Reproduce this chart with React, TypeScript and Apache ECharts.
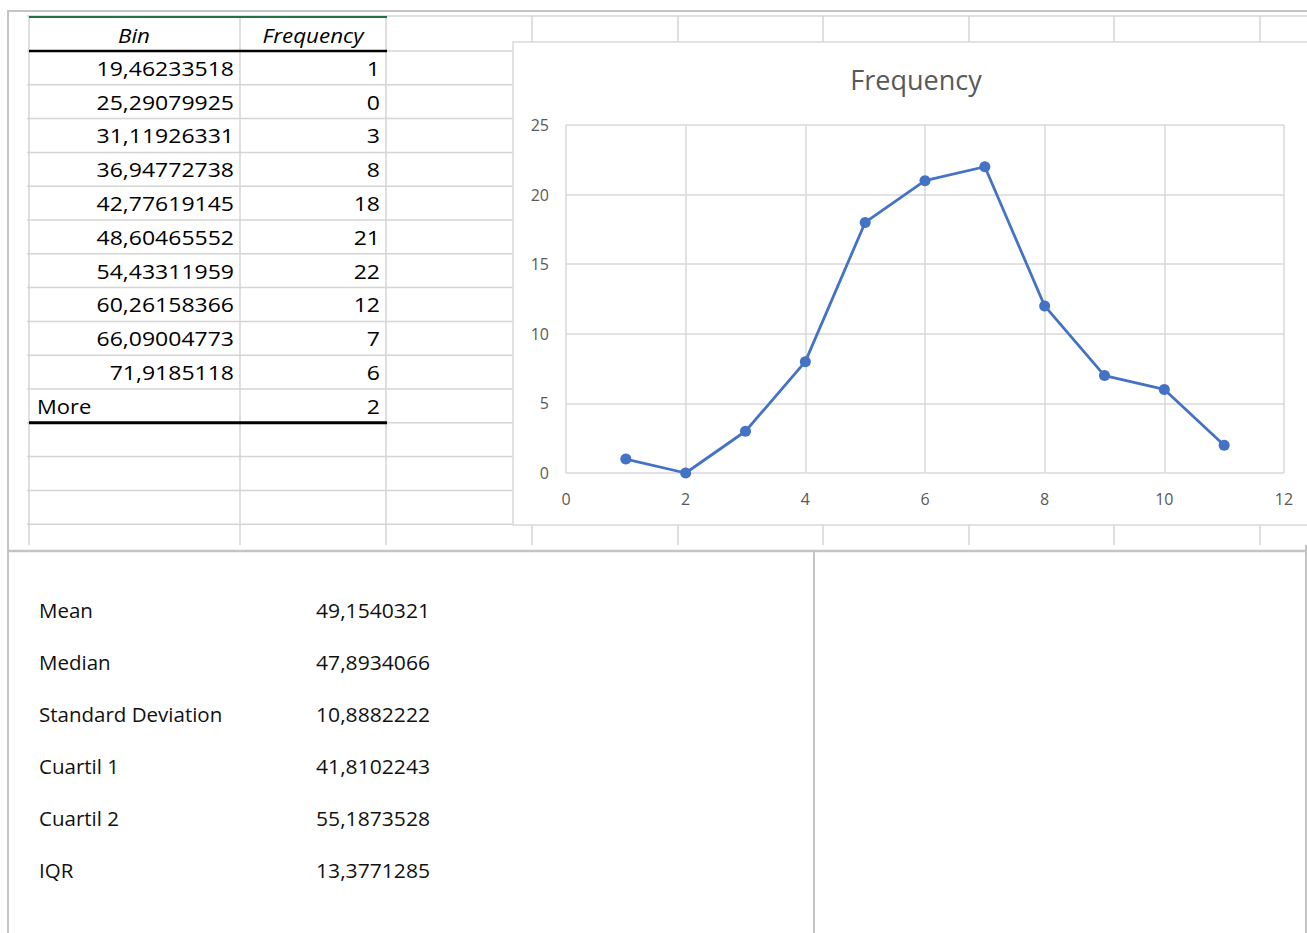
import React, { useEffect, useRef } from "react";
import * as echarts from "echarts";

// Frequency table (bin upper limits shown with comma decimals)
const binLabels = [
  "19,46233518",
  "25,29079925",
  "31,11926331",
  "36,94772738",
  "42,77619145",
  "48,60465552",
  "54,43311959",
  "60,26158366",
  "66,09004773",
  "71,9185118",
  "More",
];
const frequencies = [1, 0, 3, 8, 18, 21, 22, 12, 7, 6, 2];

// Summary statistics
const statLabels = ["Mean", "Median", "Standard Deviation", "Cuartil 1", "Cuartil 2", "IQR"];
const statValues = [
  "49,1540321",
  "47,8934066",
  "10,8882222",
  "41,8102243",
  "55,1873528",
  "13,3771285",
];

const FONT = "'Open Sans', 'Noto Sans', sans-serif";
const GRID_GRAY = "#d4d4d4";
const DOC_GRAY = "#c4c4c4";

const ROW_TOP = 51;
const ROW_H = 33.8;
const SHEET_COLS = [532, 678, 823, 969, 1114, 1260];

function line(x1: number, y1: number, x2: number, y2: number, stroke: string, lineWidth: number) {
  return { type: "line", silent: true, shape: { x1, y1, x2, y2 }, style: { stroke, lineWidth } };
}

function text(
  x: number,
  y: number,
  str: string,
  opts: { align?: string; size?: number; italic?: boolean; color?: string; scaleX?: number } = {}
) {
  return {
    type: "text",
    silent: true,
    x,
    y,
    scaleX: opts.scaleX ?? 1,
    style: {
      text: str,
      align: opts.align ?? "left",
      verticalAlign: "middle",
      fill: opts.color ?? "#000000",
      font: `${opts.italic ? "italic " : ""}${opts.size ?? 20}px ${FONT}`,
    },
  };
}

function buildGraphics() {
  const els: any[] = [];

  // spreadsheet gridlines around the chart box
  els.push(line(27, 16, 1307, 16, GRID_GRAY, 1.5));
  for (let i = 0; i <= 14; i++) {
    const y = ROW_TOP + ROW_H * i;
    els.push(line(27, y, 513, y, GRID_GRAY, 1.5));
  }
  [29, 240, 386].forEach((x) => els.push(line(x, 16, x, 545, GRID_GRAY, 1.5)));
  SHEET_COLS.forEach((x) => {
    els.push(line(x, 16, x, 42, GRID_GRAY, 1.5));
    els.push(line(x, 525, x, 545, GRID_GRAY, 1.5));
  });

  // table borders
  els.push(line(29, 17, 387, 17, "#217346", 2));
  els.push(line(29, ROW_TOP, 387, ROW_TOP, "#000000", 2.5));
  const endY = ROW_TOP + ROW_H * binLabels.length;
  els.push(line(29, endY, 387, endY, "#000000", 3));

  // header
  els.push(text(134, 35, "Bin", { align: "center", italic: true, scaleX: 1.12 }));
  els.push(text(313, 35, "Frequency", { align: "center", italic: true, scaleX: 1.12 }));

  // table rows
  binLabels.forEach((b, i) => {
    const y = ROW_TOP + ROW_H * (i + 0.5);
    if (b === "More") {
      els.push(text(37, y, b, { align: "left", scaleX: 1.1 }));
    } else {
      els.push(text(234, y, b, { align: "right", scaleX: 1.15 }));
    }
    els.push(text(380, y, String(frequencies[i]), { align: "right", scaleX: 1.15 }));
  });

  // chart box and title
  els.push({
    type: "rect",
    silent: true,
    shape: { x: 513, y: 42, width: 830, height: 483 },
    style: { fill: "none", stroke: "#d9d9d9", lineWidth: 1.5 },
  });
  els.push(text(916, 79, "Frequency", { align: "center", size: 27, color: "#595959" }));

  // document table borders
  els.push(line(7, 11, 1307, 11, DOC_GRAY, 2));
  els.push(line(8, 10, 8, 933, DOC_GRAY, 2));
  els.push(line(8, 551, 1307, 551, DOC_GRAY, 2.5));
  els.push(line(814, 551, 814, 933, DOC_GRAY, 2));
  els.push(line(1306, 545, 1306, 933, DOC_GRAY, 2));

  // summary statistics
  statLabels.forEach((label, i) => {
    const y = 610 + 52 * i;
    els.push(text(39, y, label, { size: 20.5, color: "#111111" }));
    els.push(text(316, y, statValues[i], { size: 20.5, color: "#111111", scaleX: 1.03 }));
  });

  return els;
}

export default function App() {
  const ref = useRef<HTMLDivElement>(null);

  useEffect(() => {
    if (!ref.current) return;
    const chart = echarts.init(ref.current, undefined, { renderer: "svg" });
    chart.setOption({
      animation: false,
      backgroundColor: "#ffffff",
      grid: { left: 566, top: 125, width: 718, height: 348 },
      xAxis: {
        type: "value",
        min: 0,
        max: 12,
        interval: 2,
        axisLine: { show: false },
        axisTick: { show: false },
        axisLabel: { color: "#595959", fontSize: 16, fontFamily: FONT, margin: 18 },
        splitLine: { show: true, lineStyle: { color: "#d9d9d9", width: 1.5 } },
      },
      yAxis: {
        type: "value",
        min: 0,
        max: 25,
        interval: 5,
        axisLine: { show: false },
        axisTick: { show: false },
        axisLabel: { color: "#595959", fontSize: 16, fontFamily: FONT, margin: 17 },
        splitLine: { show: true, lineStyle: { color: "#d9d9d9", width: 1.5 } },
      },
      series: [
        {
          name: "Frequency",
          type: "line",
          data: frequencies.map((v, i) => [i + 1, v]),
          symbol: "circle",
          symbolSize: 11,
          lineStyle: { color: "#4472C4", width: 2.8 },
          itemStyle: { color: "#4472C4" },
          z: 5,
        },
      ],
      graphic: { elements: buildGraphics() },
    });
    return () => chart.dispose();
  }, []);

  return (
    <div
      ref={ref}
      style={{ position: "fixed", left: 0, top: 0, width: 1307, height: 933, background: "#fff" }}
    />
  );
}
